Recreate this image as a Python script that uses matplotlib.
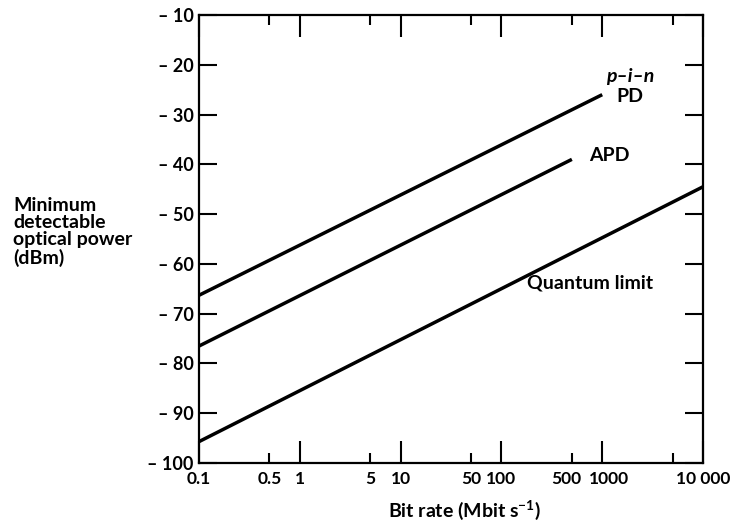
import matplotlib
matplotlib.use("Agg")
import matplotlib.pyplot as plt
from matplotlib.ticker import FixedLocator, FixedFormatter
from matplotlib.transforms import ScaledTranslation

# values (bit rate in Mbit/s, power in dBm)
pin_x = [0.1, 1000]
pin_y = [-66.3, -26.0]
apd_x = [0.1, 500]
apd_y = [-76.5, -39.0]
quantum_x = [0.1, 10000]
quantum_y = [-95.7, -44.5]

x_major = [0.1, 1, 10, 100, 1000, 10000]
x_major_labels = ["0.1", "1", "10", "100", "1000", "10 000"]
x_minor = [0.5, 5, 50, 500, 5000]
x_minor_labels = ["0.5", "5", "50", "500", ""]
y_ticks = [-10, -20, -30, -40, -50, -60, -70, -80, -90, -100]
y_labels = ["\u2013 %d" % abs(v) for v in y_ticks]

plt.rcParams['font.family'] = ['Lato', 'DejaVu Sans']
plt.rcParams['font.weight'] = 'bold'
plt.rcParams['mathtext.fontset'] = 'custom'
plt.rcParams['mathtext.rm'] = 'Lato:bold'
plt.rcParams['mathtext.default'] = 'regular'

fig = plt.figure(figsize=(7.33, 5.27), dpi=100)
ax = fig.add_axes([0.2715, 0.1214, 0.6876, 0.8501])

lw = 2.5
ax.plot(pin_x, pin_y, color='black', lw=lw, solid_capstyle='butt')
ax.plot(apd_x, apd_y, color='black', lw=lw, solid_capstyle='butt')
ax.plot(quantum_x, quantum_y, color='black', lw=lw, solid_capstyle='butt')

ax.set_xscale('log')
ax.set_xlim(0.1, 10000)
ax.set_ylim(-100, -10)

ax.xaxis.set_major_locator(FixedLocator(x_major))
ax.xaxis.set_major_formatter(FixedFormatter(x_major_labels))
ax.xaxis.set_minor_locator(FixedLocator(x_minor))
ax.xaxis.set_minor_formatter(FixedFormatter(x_minor_labels))
ax.set_yticks(y_ticks)
ax.set_yticklabels(y_labels)

ax.tick_params(axis='x', which='major', direction='in', length=16, width=1.5,
               top=True, bottom=True, labelsize=12.5, pad=6)
ax.tick_params(axis='x', which='minor', direction='in', length=7.5, width=1.5,
               top=True, bottom=True, labelsize=12.5, pad=6)
ax.tick_params(axis='y', which='major', direction='in', length=13, width=1.5,
               left=True, right=True, labelsize=13, pad=4)

# "500" and "1000" sit close together, nudge them apart like the original
lab500 = ax.xaxis.get_minor_ticks()[3].label1
lab500.set_transform(lab500.get_transform() + ScaledTranslation(-4/72, 0, fig.dpi_scale_trans))
lab1000 = ax.xaxis.get_major_ticks()[4].label1
lab1000.set_transform(lab1000.get_transform() + ScaledTranslation(5/72, 0, fig.dpi_scale_trans))

for s in ax.spines.values():
    s.set_linewidth(1.6)

ax.text(1900, -22.3, "p\u2013i\u2013n", fontsize=14, style='italic',
        ha='center', va='center')
ax.text(1900, -26.3, "PD", fontsize=14, ha='center', va='center')
ax.text(740, -38.2, "APD", fontsize=14, ha='left', va='center')
ax.text(760, -63.8, "Quantum limit", fontsize=14, ha='center', va='center')

fig.text(0.018, 0.56, "Minimum\ndetectable\noptical power\n(dBm)",
         fontsize=14, ha='left', va='center', linespacing=1.02)

fig.text(0.634, 0.032, "Bit rate (Mbit s$^{-1}$)", fontsize=14,
         ha='center', va='center')

fig.savefig("out.png", dpi=100)
